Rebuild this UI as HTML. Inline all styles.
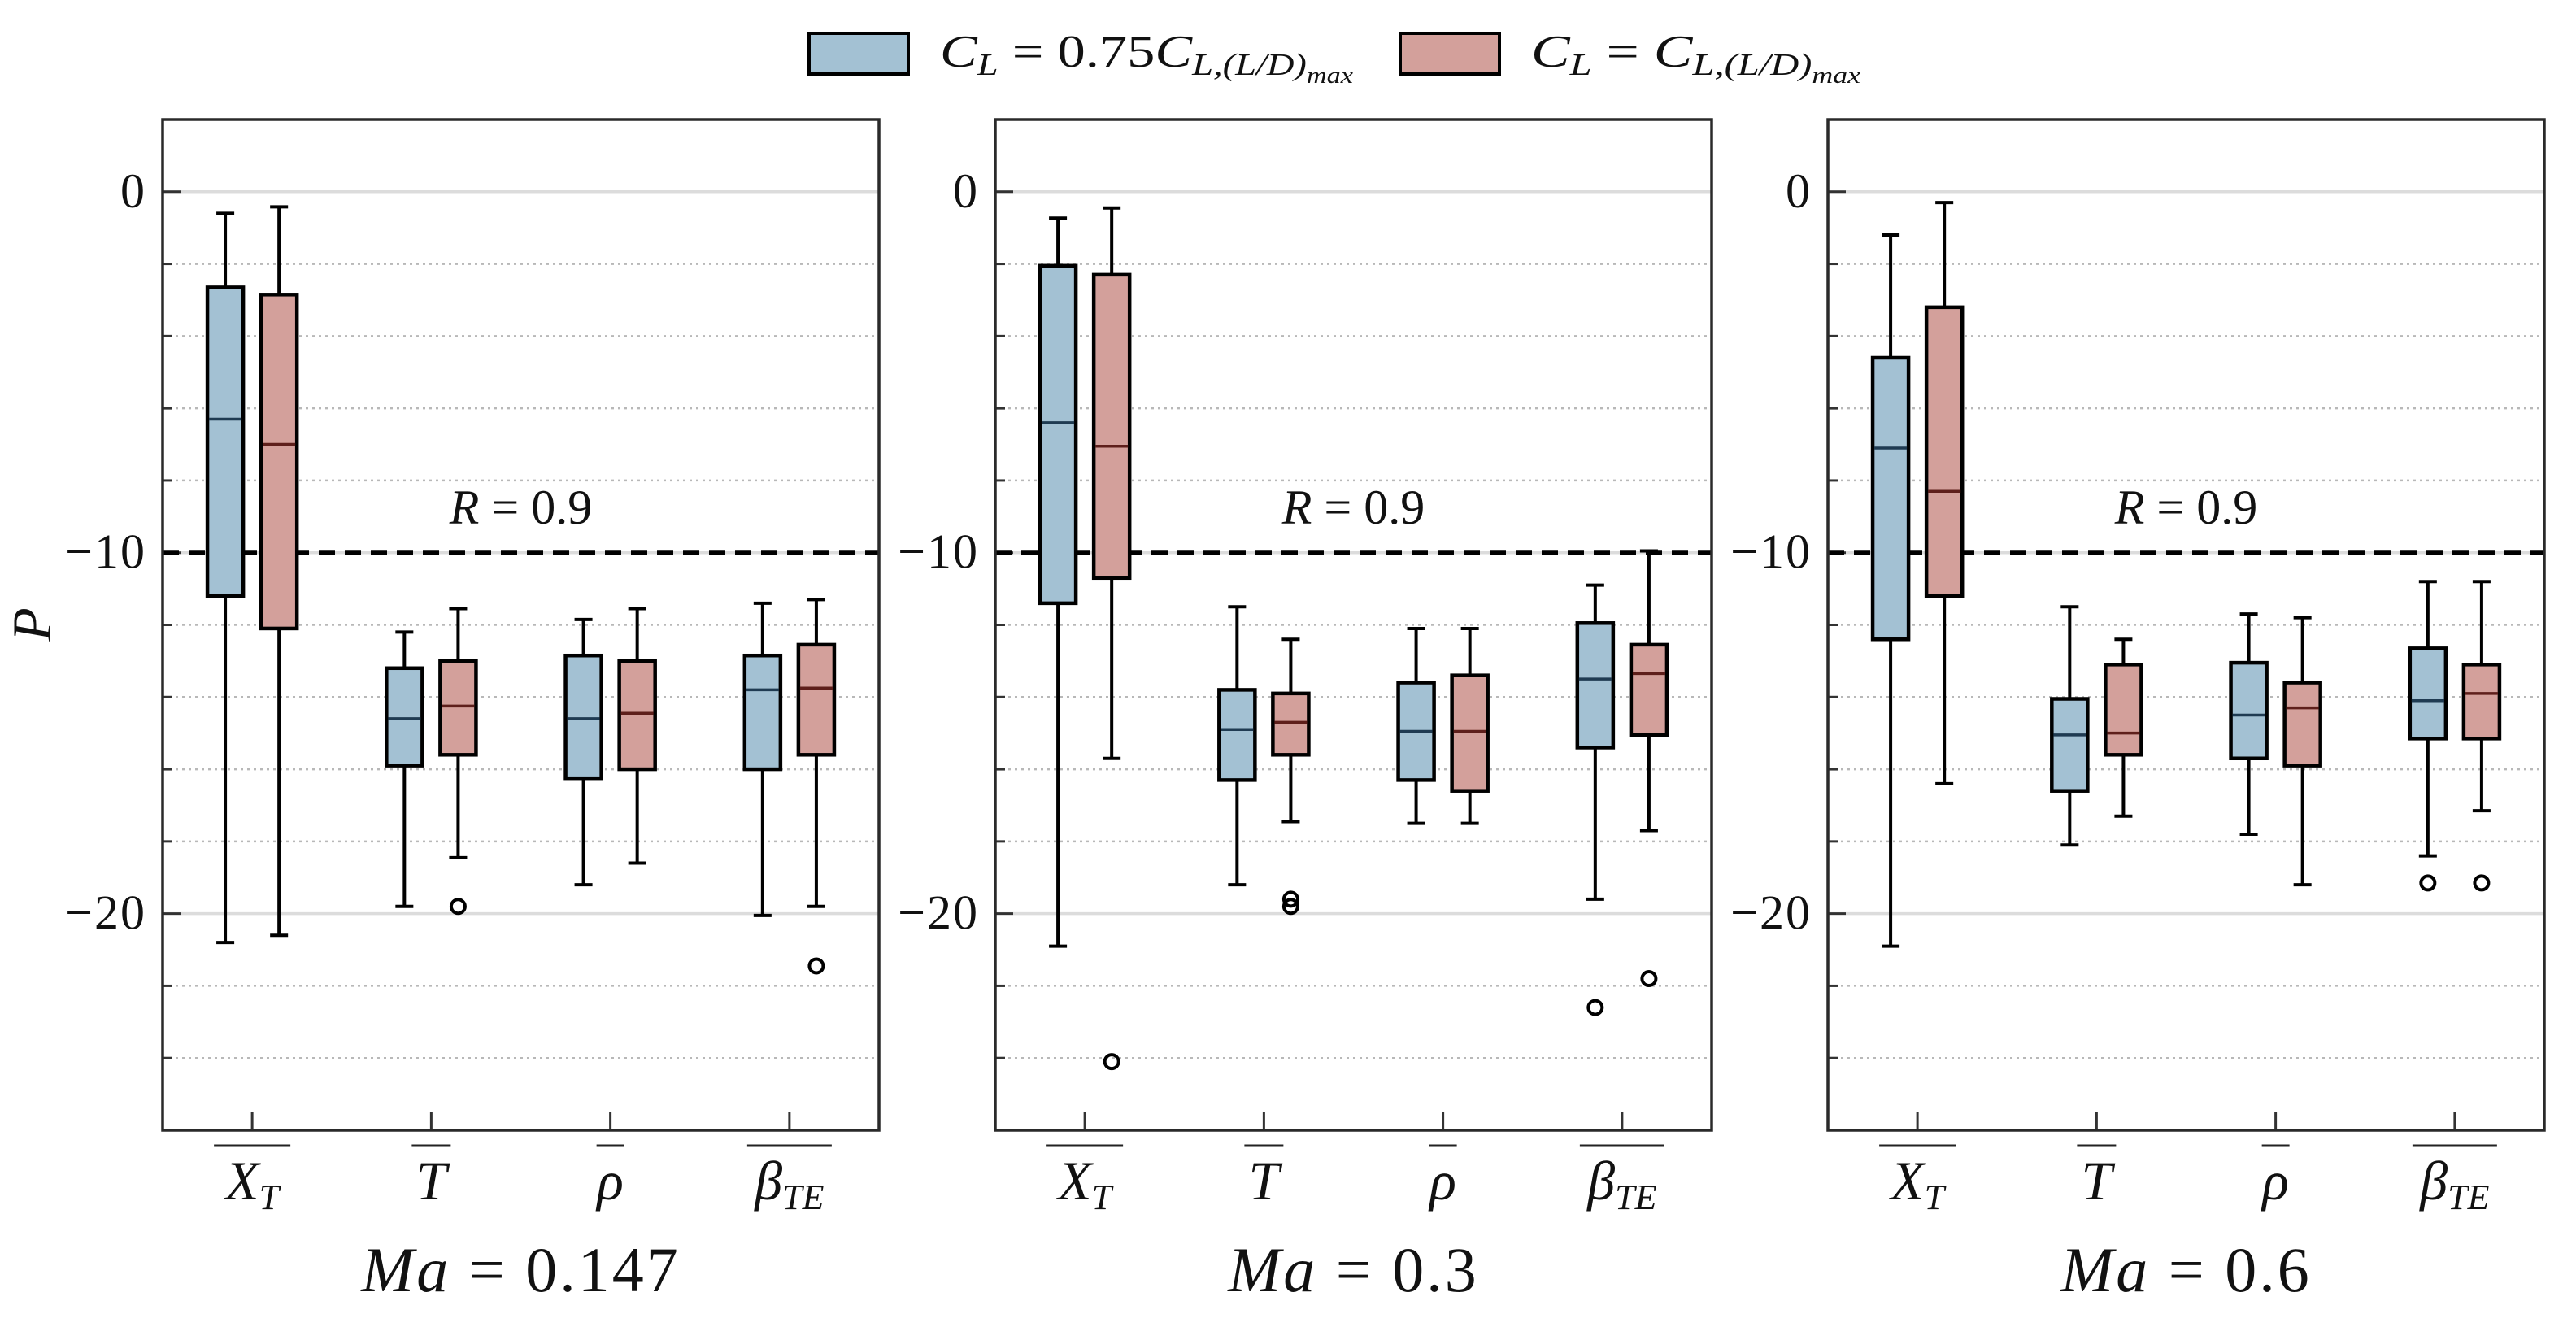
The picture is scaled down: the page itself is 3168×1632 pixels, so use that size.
<!DOCTYPE html>
<html><head><meta charset="utf-8"><style>
html,body{margin:0;padding:0;background:#fff;}
svg{display:block;}
text{font-family:"Liberation Serif","DejaVu Serif",serif;fill:#111;}
</style></head><body>
<svg id="chart" xmlns="http://www.w3.org/2000/svg" width="3168" height="1632" viewBox="0 0 3168 1632">
<g id="legend">
  <g>
    <rect x="995" y="41" width="122" height="50" fill="#a3c1d3" stroke="#000" stroke-width="4"/>
    <text x="1156" y="82" font-size="56" font-style="italic" textLength="508" lengthAdjust="spacingAndGlyphs">C<tspan font-size="38" dy="10">L</tspan><tspan dy="-10" font-style="normal"> = 0.75</tspan>C<tspan font-size="38" dy="10">L,(L/D)</tspan><tspan font-size="28" dy="10">max</tspan></text>
  </g>
  <g>
    <rect x="1722" y="41" width="122" height="50" fill="#d3a09b" stroke="#000" stroke-width="4"/>
    <text x="1883" y="82" font-size="56" font-style="italic" textLength="405" lengthAdjust="spacingAndGlyphs">C<tspan font-size="38" dy="10">L</tspan><tspan dy="-10" font-style="normal"> = </tspan>C<tspan font-size="38" dy="10">L,(L/D)</tspan><tspan font-size="28" dy="10">max</tspan></text>
  </g>
</g>
<text x="62" y="768" font-size="68" font-style="italic" text-anchor="middle" transform="rotate(-90 62 768)">P</text>
</svg>
<script>
const categories = ["X_T", "T", "rho", "beta_TE"];
const panelTitles = ["0.147", "0.3", "0.6"];
const yTicks = [0, -10, -20];
const yTickLabels = ["0", "\u221210", "\u221220"];
const minorTicks = [-2, -4, -6, -8, -12, -14, -16, -18, -22, -24];
const threshold = -10;
// each box: [whiskerLow, Q1, median, Q3, whiskerHigh]
const blueMa0147 = [[-20.8,-11.2,-6.3,-2.65,-0.6],[-19.8,-15.9,-14.6,-13.2,-12.2],[-19.2,-16.25,-14.6,-12.85,-11.85],[-20.05,-16.0,-13.8,-12.85,-11.4]];
const redMa0147  = [[-20.6,-12.1,-7.0,-2.85,-0.42],[-18.45,-15.6,-14.25,-13.0,-11.55],[-18.6,-16.0,-14.45,-13.0,-11.55],[-19.8,-15.6,-13.75,-12.55,-11.3]];
const blueMa03   = [[-20.9,-11.4,-6.4,-2.05,-0.73],[-19.2,-16.3,-14.9,-13.8,-11.5],[-17.5,-16.3,-14.95,-13.6,-12.1],[-19.6,-15.4,-13.5,-11.95,-10.9]];
const redMa03    = [[-15.7,-10.7,-7.05,-2.3,-0.45],[-17.45,-15.6,-14.7,-13.9,-12.4],[-17.5,-16.6,-14.95,-13.4,-12.1],[-17.7,-15.05,-13.35,-12.55,-9.95]];
const blueMa06   = [[-20.9,-12.4,-7.1,-4.6,-1.2],[-18.1,-16.6,-15.05,-14.05,-11.5],[-17.8,-15.7,-14.5,-13.05,-11.7],[-18.4,-15.15,-14.1,-12.65,-10.8]];
const redMa06    = [[-16.4,-11.2,-8.3,-3.2,-0.3],[-17.3,-15.6,-15.0,-13.1,-12.4],[-19.2,-15.9,-14.3,-13.6,-11.8],[-17.15,-15.15,-13.9,-13.1,-10.8]];
const blueOutliers = [[], [[3,-22.6]], [[3,-19.15]]];
const redOutliers  = [[[1,-19.8],[3,-21.45]], [[0,-24.1],[1,-19.6],[1,-19.8],[3,-21.8]], [[3,-19.15]]];
const blueSeries = [blueMa0147, blueMa03, blueMa06];
const redSeries = [redMa0147, redMa03, redMa06];

const NS = "http://www.w3.org/2000/svg";
const svg = document.getElementById("chart");
const panelLeft = [200, 1224, 2248];
const panelW = 881, plotTop = 147, plotBottom = 1390;
const yMin = -26, yMax = 2;
function yScale(v){ return plotTop + (yMax - v) / (yMax - yMin) * (plotBottom - plotTop); }
function xScale(p, u){ return panelLeft[p] + u / 4 * panelW; }
function el(tag, attrs, parent){
  const e = document.createElementNS(NS, tag);
  for (const k in attrs) e.setAttribute(k, attrs[k]);
  (parent || svg).appendChild(e);
  return e;
}
const catLabels = [
  ['X','T'], ['T',''], ['\u03C1',''], ['\u03B2','TE']
];
const BOXW = 0.2, OFF = 0.15, CAP = 0.05;

function drawBox(g, p, ci, d, off, fill, medColor, name){
  const cx = xScale(p, ci + 0.5 + off);
  const hw = BOXW / 2 * panelW / 4, cw = CAP * panelW / 4;
  const bg = el("g", {}, g);
  
  
  el("line", {x1:cx, x2:cx, y1:yScale(d[0]), y2:yScale(d[1]), stroke:"#000", "stroke-width":4}, bg);
  el("line", {x1:cx, x2:cx, y1:yScale(d[3]), y2:yScale(d[4]), stroke:"#000", "stroke-width":4}, bg);
  el("line", {x1:cx-cw, x2:cx+cw, y1:yScale(d[0]), y2:yScale(d[0]), stroke:"#000", "stroke-width":4}, bg);
  el("line", {x1:cx-cw, x2:cx+cw, y1:yScale(d[4]), y2:yScale(d[4]), stroke:"#000", "stroke-width":4}, bg);
  el("rect", {x:cx-hw, y:yScale(d[3]), width:2*hw, height:yScale(d[1])-yScale(d[3]), fill:fill, stroke:"#000", "stroke-width":4.5}, bg);
  el("line", {x1:cx-hw+2, x2:cx+hw-2, y1:yScale(d[2]), y2:yScale(d[2]), stroke:medColor, "stroke-width":3.5}, bg);
}

for (let p = 0; p < 3; p++){
  const g = el("g", {});
  
  
  const x0 = panelLeft[p], x1 = x0 + panelW;
  for (const m of minorTicks){
    const ln = el("line", {x1:x0, x2:x1, y1:yScale(m), y2:yScale(m), stroke:"#b8b8b8", "stroke-width":2.5, "stroke-dasharray":"3 5"}, g);
    
    
    el("line", {x1:x0, x2:x0+12, y1:yScale(m), y2:yScale(m), stroke:"#333", "stroke-width":3}, g);
  }
  yTicks.forEach((t, i) => {
    const ln = el("line", {x1:x0, x2:x1, y1:yScale(t), y2:yScale(t), stroke:"#dcdcdc", "stroke-width":3.5}, g);
    
    
    el("line", {x1:x0, x2:x0+22, y1:yScale(t), y2:yScale(t), stroke:"#333", "stroke-width":3}, g);
    const tx = el("text", {x:x0-20, y:yScale(t)+19, "font-size":60, "text-anchor":"end", "letter-spacing":"2"}, g);
    tx.textContent = yTickLabels[i];
    
    
  });
  const dl = el("line", {x1:x0, x2:x1, y1:yScale(threshold), y2:yScale(threshold), stroke:"#000", "stroke-width":5, "stroke-dasharray":"20 12"}, g);
  
  
  const rt = el("text", {x:xScale(p, 2), y:yScale(-9.2), "font-size":60, "text-anchor":"middle"}, g);
  rt.innerHTML = '<tspan font-style="italic">R</tspan> = 0.9';
  
  

  for (let c = 0; c < categories.length; c++){
    drawBox(g, p, c, blueSeries[p][c], -OFF, "#a3c1d3", "#1f3b52", 'box-blue-' + categories[c]);
    drawBox(g, p, c, redSeries[p][c], OFF, "#d3a09b", "#5e1f1b", 'box-red-' + categories[c]);
    const cx = xScale(p, c + 0.5);
    el("line", {x1:cx, x2:cx, y1:plotBottom, y2:plotBottom-22, stroke:"#333", "stroke-width":3}, g);
    const lb = catLabels[c];
    const tx = el("text", {x:cx, y:1475, "font-size":68, "font-style":"italic", "text-anchor":"middle"}, g);
    tx.innerHTML = lb[0] + (lb[1] ? '<tspan font-size="44" dy="12">' + lb[1] + '</tspan>' : '');
    
    
    const bw = lb[1] ? (lb[1].length > 1 ? 104 : 94) : (c === 1 ? 48 : 34);
    el("line", {x1:cx-bw/2, x2:cx+bw/2, y1:1409, y2:1409, stroke:"#222", "stroke-width":3}, g);
  }
  blueOutliers[p].forEach(o => {
    const ci = el("circle", {cx:xScale(p, o[0]+0.5-OFF), cy:yScale(o[1]), r:8.5, fill:"none", stroke:"#000", "stroke-width":4}, g);
    
    
  });
  redOutliers[p].forEach(o => {
    const ci = el("circle", {cx:xScale(p, o[0]+0.5+OFF), cy:yScale(o[1]), r:8.5, fill:"none", stroke:"#000", "stroke-width":4}, g);
    
    
  });
  const fr = el("rect", {x:x0, y:plotTop, width:panelW, height:plotBottom-plotTop, fill:"none", stroke:"#2a2a2a", "stroke-width":3.5}, g);
  
  
  const tt = el("text", {x:x0+panelW/2, y:1588, "font-size":78, "text-anchor":"middle", "letter-spacing":"3"}, g);
  tt.innerHTML = '<tspan font-style="italic">Ma</tspan> = ' + panelTitles[p];
  
  
}
</script>
</body></html>
